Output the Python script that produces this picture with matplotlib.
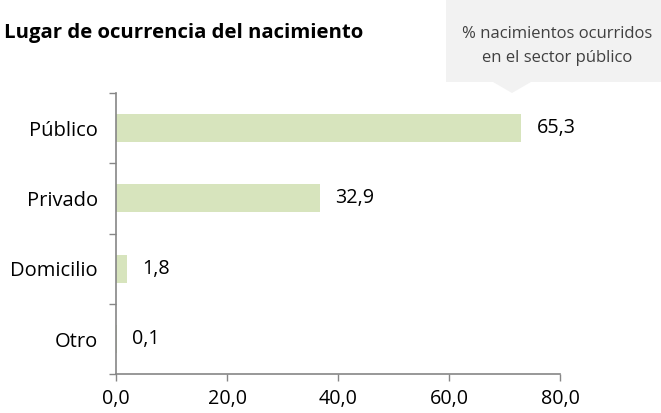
import matplotlib.pyplot as plt
from matplotlib.patches import Polygon, Rectangle

categories = ["Público", "Privado", "Domicilio", "Otro"]
values = [65.3, 32.9, 1.8, 0.1]
xticks = [0, 20, 40, 60, 80]
callout_lines = ["% nacimientos ocurridos", "en el sector público"]

BAR = "#d7e4bd"
AXIS = "#868686"

plt.rcParams["font.family"] = ["Open Sans", "DejaVu Sans"]

fig = plt.figure(figsize=(6.61, 4.13), dpi=100)
ax = fig.add_axes([0.1755, 0.094, 0.672, 0.681])

pos = list(range(len(categories)))
ax.barh(pos, values, height=0.4, color=BAR)
ax.set_ylim(len(categories) - 0.5, -0.5)
# the bars in the source use a slightly different scale than the printed axis
ax.set_xlim(0, 71.6)

for y, v in zip(pos, values):
    ax.annotate(f"{v:.1f}".replace(".", ","), (v, y), xytext=(11, 0),
                textcoords="offset points", va="center", ha="left", fontsize=14.2)

ax.set_yticks(pos)
ax.set_yticklabels(categories, fontsize=14.5)
ax.set_yticks([p - 0.5 for p in range(len(categories) + 1)], minor=True)
ax.tick_params(axis="y", which="major", length=0, pad=13)
ax.tick_params(axis="y", which="minor", length=5, color=AXIS, width=1)

# printed x axis, 0..80
ax2 = ax.twiny()
ax2.set_xlim(0, 80)
ax2.xaxis.set_ticks_position("bottom")
ax2.xaxis.set_label_position("bottom")
ax2.set_xticks(xticks)
ax2.set_xticklabels([f"{t:.1f}".replace(".", ",") for t in xticks], fontsize=14.2)
ax2.tick_params(axis="x", length=5, color=AXIS, width=1, pad=6)
# twiny turns the bottom ticks of ax back on
ax.tick_params(axis="x", which="both", bottom=False, top=False,
               labelbottom=False, labeltop=False)

for a in (ax, ax2):
    for s in ["top", "right"]:
        a.spines[s].set_visible(False)
ax.spines["bottom"].set_visible(False)
ax2.spines["left"].set_visible(False)
ax.spines["left"].set_color(AXIS)
ax.spines["left"].set_linewidth(1.2)
ax2.spines["bottom"].set_color(AXIS)
ax2.spines["bottom"].set_linewidth(1.2)

fig.text(4 / 661, 1 - 33 / 413, "Lugar de ocurrencia del nacimiento",
         fontsize=14.7, fontweight="bold", va="center", ha="left")

# callout
W, H = 661, 413
box = Rectangle((446 / W, 1 - 82 / H), (661 - 446) / W, 82 / H,
                transform=fig.transFigure, color="#f2f2f2", lw=0)
tri = Polygon([(493 / W, 1 - 82 / H), (531 / W, 1 - 82 / H), (512 / W, 1 - 93 / H)],
              closed=True, transform=fig.transFigure, color="#f2f2f2", lw=0)
fig.patches.extend([box, tri])
for i, line in enumerate(callout_lines):
    fig.text(557 / W, 1 - (34 + 24 * i) / H, line,
             fontsize=12, ha="center", va="center", color="#404040")

fig.savefig("out.png", dpi=100)
